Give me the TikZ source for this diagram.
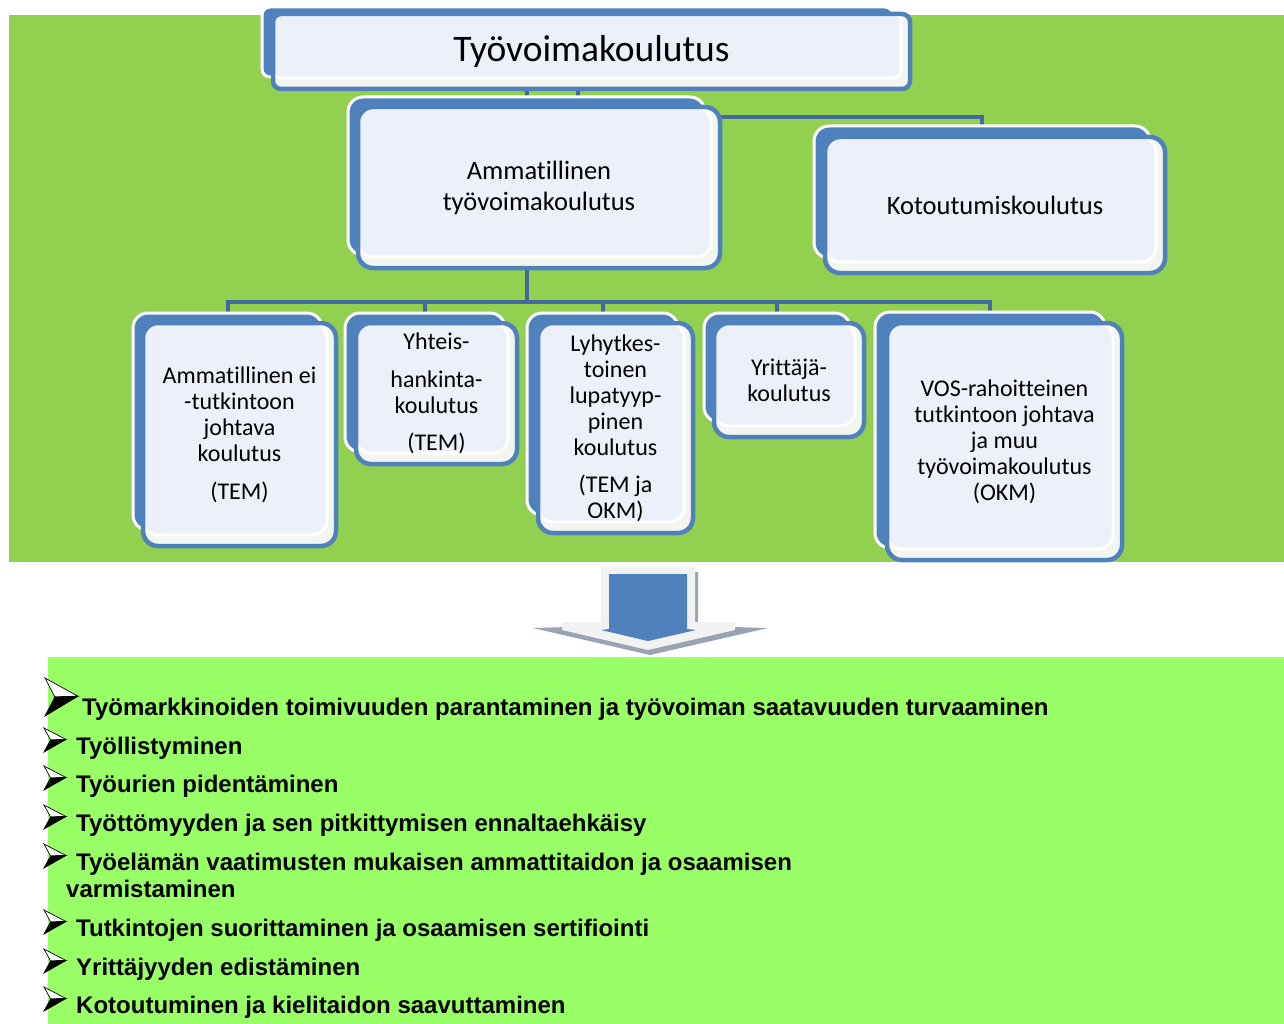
\documentclass[tikz,border=0pt]{standalone}
\usepackage{fontspec}
\setmainfont{Carlito}[Ligatures=CommonOff]
\newfontfamily\arialfont{Liberation Sans}
\usetikzlibrary{fit,calc}
\definecolor{topgreen}{HTML}{92D050}
\definecolor{lightgreen}{HTML}{99FF66}
\definecolor{boxblue}{HTML}{4F81BD}
\definecolor{connblue}{HTML}{41699C}
\definecolor{innerfill}{HTML}{ECF0F8}
\definecolor{palefill}{HTML}{F2F6EE}
\definecolor{arrowgray}{HTML}{F2F2F2}
\definecolor{shadowgray}{HTML}{98A4B6}
\pgfdeclarelayer{bg}\pgfdeclarelayer{lines}
\pgfsetlayers{bg,lines,main}
\tikzset{
  backbox/.style={fill=boxblue, draw=white, line width=3pt, rounded corners=#1, inner sep=0pt},
  frontbox/.style={draw=boxblue, line width=4.5pt, rounded corners=#1, inner sep=0pt},
  boxtext/.style={inner sep=0pt, align=center, text=black},
  conn/.style={draw=connblue, line width=4pt},
  bultext/.style={anchor=base west, inner sep=0pt, font=\arialfont\bfseries\fontsize{24}{28}\selectfont},
  pics/arrbul/.style n args={2}{code={
    \filldraw[fill=white, draw=black, line width=0.7pt, line join=miter] (0,0) -- (#1,0.48*#2) -- (0.3*#1,0.5*#2) -- cycle;
    \filldraw[fill=black, draw=black, line width=0.7pt, line join=miter] (0.3*#1,0.5*#2) -- (#1,0.48*#2) -- (0,#2) -- cycle;
  }}
}
\newcommand\twobox[8]{%
  \node[backbox=#6, fit={(#2) (#3)}] (#1b) {};
  \fill[palefill, rounded corners=#6] (#4) rectangle (#5);
  \filldraw[fill=innerfill, draw=white, line width=3pt, rounded corners=#6] (#4) rectangle ($(#5)+(-9,-11)$);
  \node[frontbox=#6, fit={(#4) (#5)}] (#1) {};
  \node[boxtext, font=#7] (#1t) at (#1.center) {#8};
}
\begin{document}
\begin{tikzpicture}[x=1pt,y=-1pt]
\useasboundingbox (0,0) rectangle (1284,1024);
\begin{pgfonlayer}{bg}
  \fill[white] (0,0) rectangle (1284,1024);
  \fill[topgreen] (9,15) rectangle (1284,562);
  \fill[lightgreen] (48,657) rectangle (1284,1024);
\end{pgfonlayer}

\twobox{top}{262,7}{893,77}{273,14}{910,89}{8pt}{\fontsize{37.5}{42}\selectfont}{Työvoimakoulutus}
\twobox{amm}{348,97}{705,255}{358,107}{720,268}{15pt}{\fontsize{26.5}{31}\selectfont}{Ammatillinen\\työvoimakoulutus}
\twobox{koto}{814,126}{1150,258}{825,137}{1165,273}{15pt}{\fontsize{26.5}{31}\selectfont}{Kotoutumiskoulutus}
\twobox{ba}{133,313}{322,530}{143,323}{336,546}{15pt}{\fontsize{24}{26}\selectfont}{Ammatillinen ei\\-tutkintoon\\johtava\\koulutus\\[12pt](TEM)}
\twobox{bb}{345,313}{505,452}{356,323}{517,464}{15pt}{\fontsize{24}{26}\selectfont}{Yhteis-\\[12pt]hankinta-\\koulutus\\[11pt](TEM)}
\twobox{bc}{527,313}{678,515}{538,323}{693,533}{15pt}{\fontsize{24}{26}\selectfont}{Lyhytkes-\\toinen\\lupatyyp-\\pinen\\koulutus\\[11pt](TEM ja\\OKM)}
\twobox{bd}{704,313}{850,422}{714,323}{864,437}{15pt}{\fontsize{24}{26}\selectfont}{Yrittäjä-\\koulutus}
\twobox{be}{875,312}{1105,548}{887,323}{1122,560}{15pt}{\fontsize{24}{26}\selectfont}{VOS-rahoitteinen\\tutkintoon johtava\\ja muu\\työvoimakoulutus\\(OKM)}

\coordinate (j1) at (0,82);
\coordinate (j2) at (0,117);
\coordinate (bus) at (0,302);
\begin{pgfonlayer}{lines}
  \draw[conn] (topb.center) -- (topb.center |- j1) -| (ammb.center);
  \draw[conn] (topb.center) -- (topb.center |- j2) -| (kotob.center);
  \foreach \c in {ba,bb,bc,bd,be}{
    \draw[conn] (ammb.center) -- (ammb.center |- bus) -| (\c b.center);
  }
\end{pgfonlayer}

% down arrow
\fill[shadowgray] (606,572) -- (698,572) -- (698,626) -- (768,628) -- (650,655) -- (533,628) -- (606,626) -- cycle;
\fill[arrowgray] (601,567) -- (695,567) -- (695,622) -- (735,622) -- (735,630) -- (648,650) -- (562,630) -- (562,622) -- (601,622) -- cycle;
\fill[boxblue] (609,574) -- (687,574) -- (687,629) -- (696,630) -- (648,641) -- (601,630) -- (609,629) -- cycle;

% bullets
\pic at (45,678) {arrbul={33}{38}};
\node[bultext] (t1) at (82,715) {Työmarkkinoiden toimivuuden parantaminen ja työvoiman saatavuuden turvaaminen};
\pic at (44,728) {arrbul={22}{24}};
\node[bultext] (t2) at (76,754) {Työllistyminen};
\pic at (44,766) {arrbul={22}{24}};
\node[bultext] (t3) at (76,792) {Työurien pidentäminen};
\pic at (44,805) {arrbul={22}{24}};
\node[bultext] (t4) at (76,831) {Työttömyyden ja sen pitkittymisen ennaltaehkäisy};
\pic at (44,844) {arrbul={22}{24}};
\node[bultext] (t5) at (76,870) {Työelämän vaatimusten mukaisen ammattitaidon ja osaamisen};
\node[bultext] (t5b) at (66,897) {varmistaminen};
\pic at (44,910) {arrbul={22}{24}};
\node[bultext] (t6) at (76,936) {Tutkintojen suorittaminen ja osaamisen sertifiointi};
\pic at (44,949) {arrbul={22}{24}};
\node[bultext] (t7) at (76,975) {Yrittäjyyden edistäminen};
\pic at (44,987) {arrbul={22}{24}};
\node[bultext] (t8) at (76,1013) {Kotoutuminen ja kielitaidon saavuttaminen};
\end{tikzpicture}
\end{document}
